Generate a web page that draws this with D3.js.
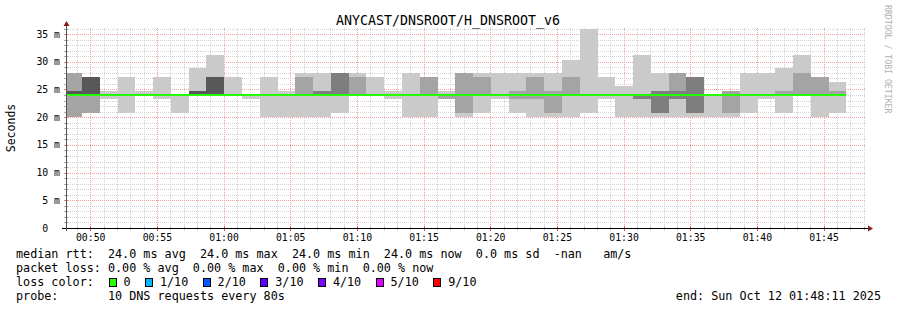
<!DOCTYPE html>
<html>
<head>
<meta charset="utf-8">
<script src="https://cdn.jsdelivr.net/npm/d3@7"></script>
<style>
  body { margin: 0; background: #fff; }
  text { font-family: "DejaVu Sans Mono", monospace; white-space: pre; }
</style>
</head>
<body>
<div id="chart"></div>
<script>
const title = 'ANYCAST/DNSROOT/H_DNSROOT_v6'
const yLabel = 'Seconds'
const watermark = 'RRDTOOL / TOBI OETIKER'
const rangeStart = '2025-10-12T00:48:11Z'
const rangeEnd = '2025-10-12T01:48:11Z'
const firstStepEnd = '2025-10-12T00:49:23Z'
const stepSeconds = 80
const yMax = 36.1
const yTicks = [0, 5, 10, 15, 20, 25, 30, 35]

// 10 sorted DNS response times (ms) per 80s step
const pings = [
  [20, 20, 24, 24, 24, 24, 24.8, 24.8, 28, 28],
  [20.8, 20.8, 24, 24, 24, 24, 27.2, 27.2, 27.2, 27.2],
  [23.2, 24, 24, 24, 24, 24, 24, 24, 24, 24.8],
  [20.8, 24, 24, 24, 24, 24, 24, 24, 24, 27.2],
  [24, 24, 24, 24, 24, 24, 24, 24, 24, 24.8],
  [23.2, 24, 24, 24, 24, 24, 24, 24, 24, 27.2],
  [20.8, 24, 24, 24, 24, 24, 24, 24, 24, 24],
  [24, 24, 24, 24, 24, 24, 24.8, 24.8, 24.8, 28.8],
  [24, 24, 24, 24, 24, 24, 27.2, 27.2, 27.2, 31.2],
  [24, 24, 24, 24, 24, 24, 24, 24, 24, 27.2],
  [23.2, 24, 24, 24, 24, 24, 24, 24, 24, 24],
  [20, 24, 24, 24, 24, 24, 24, 24, 24, 27.2],
  [20, 24, 24, 24, 24, 24, 24, 24, 24, 24.8],
  [20, 24, 24, 24, 24, 24, 24, 24, 27.2, 28],
  [20, 24, 24, 24, 24, 24, 24, 24.8, 24.8, 28],
  [20.8, 24, 24, 24, 24, 24, 24, 28, 28, 28],
  [24, 24, 24, 24, 24, 24, 24, 24, 27.2, 28],
  [24, 24, 24, 24, 24, 24, 24, 24, 24, 27.2],
  [23.2, 24, 24, 24, 24, 24, 24, 24, 24, 24.8],
  [20, 24, 24, 24, 24, 24, 24, 24, 24, 28],
  [20, 24, 24, 24, 24, 24, 24, 24, 27.2, 27.2],
  [23.2, 23.2, 24, 24, 24, 24, 24, 24, 24, 24.8],
  [20, 20.8, 24, 24, 24, 24, 24, 24, 28, 28],
  [20.8, 24, 24, 24, 24, 24, 24, 24, 27.2, 28],
  [23.2, 24, 24, 24, 24, 24, 24, 24, 24, 28],
  [20.8, 23.2, 24, 24, 24, 24, 24, 24, 24.8, 28],
  [20, 23.2, 24, 24, 24, 24, 24, 24, 27.2, 28],
  [20, 20.8, 24, 24, 24, 24, 24, 24, 24.8, 28],
  [20, 24, 24, 24, 24, 24, 24, 24, 27.2, 30.4],
  [20.8, 24, 24, 24, 24, 24, 24, 24, 24, 36],
  [23.2, 24, 24, 24, 24, 24, 24, 24, 24, 27.2],
  [20, 24, 24, 24, 24, 24, 24, 24, 24, 25.6],
  [20, 23.2, 23.2, 24, 24, 24, 24, 24, 24, 31.2],
  [20, 20.8, 20.8, 24, 24, 24, 24, 24.8, 24.8, 28],
  [20, 23.2, 23.2, 24, 24, 24, 24, 24.8, 28, 28],
  [20, 20.8, 20.8, 24, 24, 24, 24, 27.2, 27.2, 27.2],
  [20, 24, 24, 24, 24, 24, 24, 24, 24, 24],
  [20, 20.8, 24, 24, 24, 24, 24, 24, 24.8, 24.8],
  [20.8, 24, 24, 24, 24, 24, 24, 24, 24, 28],
  [23.2, 24, 24, 24, 24, 24, 24, 24, 24, 28],
  [20.8, 24, 24, 24, 24, 24, 24, 24, 24.8, 28.8],
  [24, 24, 24, 24, 24, 24, 24, 24, 28, 31.2],
  [20, 24, 24, 24, 24, 24, 24, 24, 27.2, 27.2],
  [20.8, 24, 24, 24, 24, 24, 24, 24, 24.8, 26.4]
]

const legendRtt = 'median rtt:  24.0 ms avg  24.0 ms max  24.0 ms min  24.0 ms now  0.0 ms sd  -nan   am/s'
const legendLoss = 'packet loss: 0.00 % avg  0.00 % max  0.00 % min  0.00 % now'
const lossTitle = 'loss color:'
const lossLabels = ['0', '1/10', '2/10', '3/10', '4/10', '5/10', '9/10']
const lossColors = ['#26ff00', '#00b8ff', '#0059ff', '#5e00ff', '#7e00ff', '#dd00ff', '#ff0000']
const probeText = 'probe:       10 DNS requests every 80s'
const endText = 'end: Sun Oct 12 01:48:11 2025'

const W = 897, H = 310
const plot = {left: 66, right: 866, top: 28, bottom: 228}

const svg = d3.select('#chart').append('svg')
  .attr('width', W)
  .attr('height', H)
  .style('display', 'block')
svg.append('rect').attr('width', W).attr('height', H).attr('fill', '#fff')

const x = d3.scaleUtc()
  .domain([new Date(rangeStart), new Date(rangeEnd)])
  .range([plot.left, plot.right])
const y = d3.scaleLinear()
  .domain([0, yMax])
  .range([plot.bottom, plot.top])

// grid
const grid = svg.append('g').attr('shape-rendering', 'crispEdges')
const minutes = d3.utcMinute.range(x.domain()[0], x.domain()[1])
const isMajorT = d => d.getUTCMinutes() % 5 === 0
grid.selectAll('.vminor')
  .data(minutes.filter(d => !isMajorT(d)))
  .enter().append('line')
  .attr('x1', d => Math.round(x(d)) + 0.5)
  .attr('x2', d => Math.round(x(d)) + 0.5)
  .attr('y1', plot.top)
  .attr('y2', plot.bottom)
  .attr('stroke', '#d2d2d2')
  .attr('stroke-dasharray', '1,1')
const mstep = d3.range(1, Math.floor(yMax) + 1)
grid.selectAll('.hminor')
  .data(mstep.filter(d => d % 5 !== 0))
  .enter().append('line')
  .attr('x1', plot.left)
  .attr('x2', plot.right)
  .attr('y1', d => Math.round(y(d)) + 0.5)
  .attr('y2', d => Math.round(y(d)) + 0.5)
  .attr('stroke', '#d2d2d2')
  .attr('stroke-dasharray', '1,1')
grid.selectAll('.vmajor')
  .data(minutes.filter(isMajorT))
  .enter().append('line')
  .attr('x1', d => Math.round(x(d)) + 0.5)
  .attr('x2', d => Math.round(x(d)) + 0.5)
  .attr('y1', plot.top)
  .attr('y2', plot.bottom)
  .attr('stroke', '#f2a0a0')
  .attr('stroke-dasharray', '1,1')
grid.selectAll('.hmajor')
  .data(yTicks.filter(d => d > 0))
  .enter().append('line')
  .attr('x1', plot.left)
  .attr('x2', plot.right)
  .attr('y1', d => Math.round(y(d)) + 0.5)
  .attr('y2', d => Math.round(y(d)) + 0.5)
  .attr('stroke', '#f2a0a0')
  .attr('stroke-dasharray', '1,1')

// steps
const t0 = new Date(rangeStart).getTime()
const steps = pings.map((p, i) => {
  const end = new Date(firstStepEnd).getTime() + i * stepSeconds * 1000
  const start = Math.max(t0, end - stepSeconds * 1000)
  return {start: new Date(start), end: new Date(end), p: p, median: d3.median(p)}
})

// smoke, outer pair first, inner pairs darker
const half = pings[0].length / 2
const smokeGray = i => {
  const v = Math.floor(190 / half * (half - i)) + 50
  return d3.rgb(v, v, v).formatHex()
}
const bands = []
steps.forEach(s => {
  for (let i = 1; i <= half; i++) {
    const lo = s.p[i - 1], hi = s.p[s.p.length - i]
    if (hi > lo) bands.push({s: s, i: i, lo: lo, hi: hi})
  }
})
svg.append('g').attr('shape-rendering', 'crispEdges')
  .selectAll('rect')
  .data(bands)
  .enter().append('rect')
  .attr('x', d => Math.round(x(d.s.start)))
  .attr('width', d => Math.round(x(d.s.end)) - Math.round(x(d.s.start)))
  .attr('y', d => Math.round(y(d.hi)))
  .attr('height', d => Math.round(y(d.lo)) - Math.round(y(d.hi)))
  .attr('fill', d => smokeGray(d.i))

// median line
const medPts = []
steps.forEach(s => { medPts.push([s.start, s.median]); medPts.push([s.end, s.median]) })
svg.append('path')
  .datum(medPts)
  .attr('fill', 'none')
  .attr('stroke', lossColors[0])
  .attr('stroke-width', 2)
  .attr('d', d3.line().x(d => Math.round(x(d[0]))).y(d => y(d[1])))

// axes
const axes = svg.append('g').attr('shape-rendering', 'crispEdges')
axes.selectAll('.xtick')
  .data(minutes)
  .enter().append('line')
  .attr('x1', d => Math.round(x(d)) + 0.5)
  .attr('x2', d => Math.round(x(d)) + 0.5)
  .attr('y1', d => isMajorT(d) ? plot.bottom - 2 : plot.bottom - 1)
  .attr('y2', d => isMajorT(d) ? plot.bottom + 3 : plot.bottom + 2)
  .attr('stroke', d => isMajorT(d) ? '#e05050' : '#aaaaaa')
axes.selectAll('.ytick')
  .data(mstep)
  .enter().append('line')
  .attr('x1', plot.left - 2)
  .attr('x2', plot.left + 2)
  .attr('y1', d => Math.round(y(d)) + 0.5)
  .attr('y2', d => Math.round(y(d)) + 0.5)
  .attr('stroke', d => d % 5 === 0 ? '#e08080' : '#aaaaaa')
axes.append('line')
  .attr('x1', plot.left - 4).attr('x2', plot.right + 4)
  .attr('y1', plot.bottom + 0.5).attr('y2', plot.bottom + 0.5)
  .attr('stroke', '#000')
axes.append('line')
  .attr('x1', plot.left + 0.5).attr('x2', plot.left + 0.5)
  .attr('y1', plot.bottom + 3).attr('y2', plot.top - 5)
  .attr('stroke', '#555')
svg.append('path')
  .attr('d', `M${plot.right + 2},${plot.bottom - 2.5}L${plot.right + 7},${plot.bottom + 0.5}L${plot.right + 2},${plot.bottom + 3.5}Z`)
  .attr('fill', '#8b1a1a')
svg.append('path')
  .attr('d', `M${plot.left - 2.5},${plot.top - 2}L${plot.left + 0.5},${plot.top - 7}L${plot.left + 3.5},${plot.top - 2}Z`)
  .attr('fill', '#8b1a1a')

// tick labels
svg.selectAll('.ylabel')
  .data(yTicks)
  .enter().append('text')
  .attr('x', 60)
  .attr('y', d => y(d))
  .attr('dy', '0.36em')
  .style('text-anchor', 'end')
  .style('font-size', '9.8px')
  .text(d => d === 0 ? '0\u00a0\u00a0' : `${d} m`)
svg.selectAll('.xlabel')
  .data(minutes.filter(isMajorT))
  .enter().append('text')
  .attr('x', d => x(d) + 0.5)
  .attr('y', 241)
  .style('text-anchor', 'middle')
  .style('font-size', '9.8px')
  .text(d3.utcFormat('%H:%M'))

// titles
svg.append('text')
  .attr('x', 448).attr('y', 24.5)
  .style('text-anchor', 'middle')
  .style('font-size', '13.3px')
  .text(title)
svg.append('text')
  .attr('transform', 'translate(15,128) rotate(-90)')
  .style('text-anchor', 'middle')
  .style('font-size', '11.5px')
  .text(yLabel)
svg.append('text')
  .attr('transform', 'translate(885,5) rotate(90)')
  .style('font-size', '8.2px')
  .attr('fill', '#b0b0b0')
  .text(watermark)

// legend
const fs = 11.75, cw = fs * 0.602, lx = 16
const rows = [258.3, 272.3, 286.4, 300.3]
svg.append('text').attr('x', lx).attr('y', rows[0]).style('font-size', fs + 'px').text(legendRtt)
svg.append('text').attr('x', lx).attr('y', rows[1]).style('font-size', fs + 'px').text(legendLoss)
svg.append('text').attr('x', lx).attr('y', rows[2]).style('font-size', fs + 'px').text(lossTitle)
svg.append('text').attr('x', lx).attr('y', rows[3]).style('font-size', fs + 'px').text(probeText)
svg.append('text').attr('x', 881).attr('y', rows[3]).style('font-size', fs + 'px')
  .style('text-anchor', 'end').text(endText)

let col = 13.1
const lossItems = lossLabels.map((l, i) => {
  const item = {label: l, color: lossColors[i], box: lx + col * cw, text: lx + (col + 2.1) * cw}
  col += 2.1 + l.length + 2.05
  return item
})
const li = svg.append('g')
li.selectAll('rect')
  .data(lossItems)
  .enter().append('rect')
  .attr('x', d => Math.round(d.box) + 0.5)
  .attr('y', 278.5)
  .attr('width', 7)
  .attr('height', 8)
  .attr('fill', d => d.color)
  .attr('stroke', '#000')
  .attr('shape-rendering', 'crispEdges')
li.selectAll('text')
  .data(lossItems)
  .enter().append('text')
  .attr('x', d => d.text)
  .attr('y', rows[2])
  .style('font-size', fs + 'px')
  .text(d => d.label)
</script>
</body>
</html>
